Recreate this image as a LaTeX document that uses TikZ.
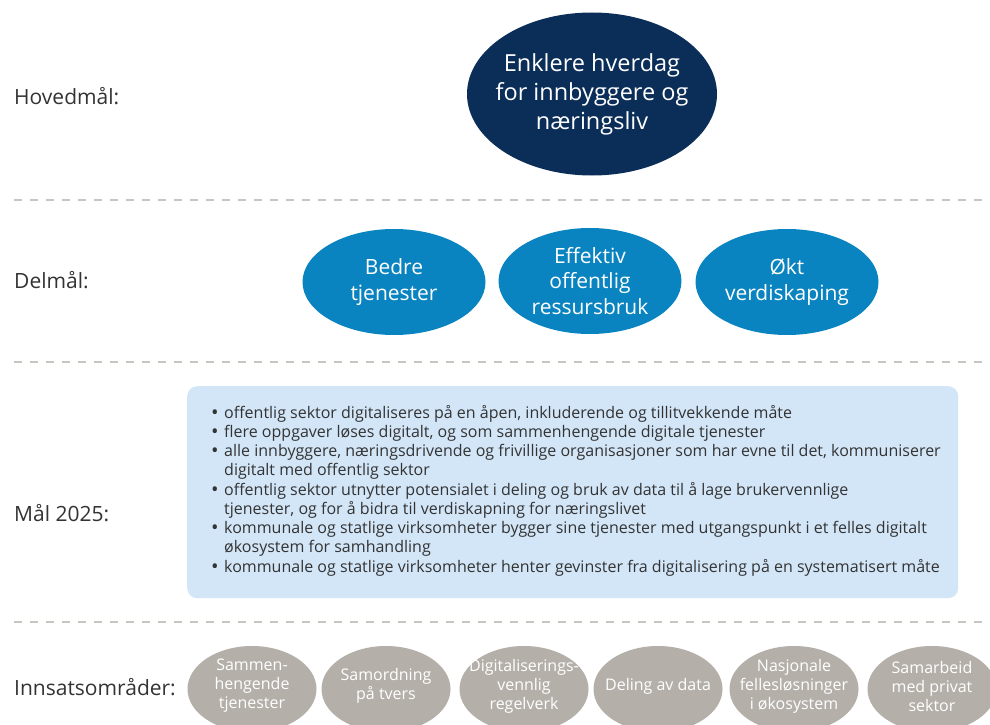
\documentclass[tikz,border=0pt]{standalone}
\usepackage{fontspec}
\setmainfont{Open Sans}
\usetikzlibrary{shapes.geometric}
\definecolor{navy}{HTML}{0B2E59}
\definecolor{midblue}{HTML}{0A84C0}
\definecolor{stone}{HTML}{B4AFA9}
\definecolor{paleblue}{HTML}{D3E6F8}
\definecolor{txt}{HTML}{333333}
\definecolor{dashgrey}{HTML}{C8C4C0}
\tikzset{
  lbl/.style={anchor=west, inner sep=0pt, text=txt, font=\fontsize{21}{25}\selectfont},
  sep/.style={draw=dashgrey, line width=1.2pt, dash pattern=on 8pt off 8pt},
  ell/.style={ellipse, inner sep=0pt},
  mainell/.style={ell, fill=navy, minimum width=250pt, minimum height=163pt},
  maintxt/.style={inner sep=0pt, text=white, align=center, font=\fontsize{23.5}{29}\selectfont},
  subell/.style={ell, fill=midblue, minimum width=183pt, minimum height=106pt},
  subtxt/.style={inner sep=0pt, text=white, align=center, font=\fontsize{21}{25.5}\selectfont},
  areaell/.style={ell, fill=stone, minimum width=129pt, minimum height=86pt},
  areatxt/.style={inner sep=0pt, text=white, align=center, font=\fontsize{16}{19}\selectfont},
}
\newcommand{\bul}{\makebox[13pt][l]{\raisebox{-0.1ex}[0pt][0pt]{\scalebox{1.25}{\textbullet}}}}
\newcommand{\ind}{\hspace*{13pt}}
\begin{document}
\begin{tikzpicture}[x=1pt, y=-1pt]
\useasboundingbox (0,0) rectangle (990,725);
% separators
\coordinate (s1a) at (14,200); \coordinate (s1b) at (985,200);
\coordinate (s2a) at (14,362); \coordinate (s2b) at (985,362);
\coordinate (s3a) at (14,622); \coordinate (s3b) at (985,622);
\draw[sep] (s1a) -- (s1b);
\draw[sep] (s2a) -- (s2b);
\draw[sep] (s3a) -- (s3b);
% labels
\node[lbl] (l1) at (14,96) {Hovedmål:};
\node[lbl] (l2) at (14,280) {Delmål:};
\node[lbl] (l3) at (14,513) {Mål 2025:};
\node[lbl] (l4) at (14,687) {Innsatsområder:};
% main goal
\node[mainell] (hm) at (592,94) {};
\node[maintxt] (hmt) at (hm.center) {Enklere hverdag\\for innbyggere og\\næringsliv};
% sub goals
\node[subell] (d1) at (394,282) {};
\node[subell] (d2) at (590,281) {};
\node[subell] (d3) at (787,282) {};
\node[subtxt] (d1t) at (d1.center) {Bedre\\tjenester};
\node[subtxt] (d2t) at (d2.center) {Effektiv\\offentlig\\ressursbruk};
\node[subtxt] (d3t) at (d3.center) {Økt\\verdiskaping};
% goals 2025
\node[fill=paleblue, rounded corners=10pt, minimum width=771pt, minimum height=212pt, anchor=north west, inner sep=0pt] (box) at (187,386) {};
\node[anchor=north west, inner sep=0pt, align=left, text=txt, font=\fontsize{16}{19.25}\selectfont] (goals) at (211,405) {%
\bul offentlig sektor digitaliseres på en åpen, inkluderende og tillitvekkende måte\\
\bul flere oppgaver løses digitalt, og som sammenhengende digitale tjenester\\
\bul alle innbyggere, næringsdrivende og frivillige organisasjoner som har evne til det, kommuniserer\\
\ind digitalt med offentlig sektor\\
\bul offentlig sektor utnytter potensialet i deling og bruk av data til å lage brukervennlige\\
\ind tjenester, og for å bidra til verdiskapning for næringslivet\\
\bul kommunale og statlige virksomheter bygger sine tjenester med utgangspunkt i et felles digitalt\\
\ind økosystem for samhandling\\
\bul kommunale og statlige virksomheter henter gevinster fra digitalisering på en systematisert måte};
% areas
\node[areaell] (a1) at (252,689) {};
\node[areaell] (a2) at (386,689) {};
\node[areaell] (a3) at (524,689) {};
\node[areaell] (a4) at (658,689) {};
\node[areaell] (a5) at (794,689) {};
\node[areaell] (a6) at (932,689) {};
\node[areatxt] (a1t) at (252,686) {Sammen-\\hengende\\tjenester};
\node[areatxt] (a2t) at (386,686) {Samordning\\på tvers};
\node[areatxt] (a3t) at (524,686) {Digitaliserings-\\vennlig\\regelverk};
\node[areatxt] (a4t) at (658,686) {Deling av data};
\node[areatxt] (a5t) at (794,686) {Nasjonale\\fellesløsninger\\i økosystem};
\node[areatxt] (a6t) at (932,686) {Samarbeid\\med privat\\sektor};
\end{tikzpicture}
\end{document}
